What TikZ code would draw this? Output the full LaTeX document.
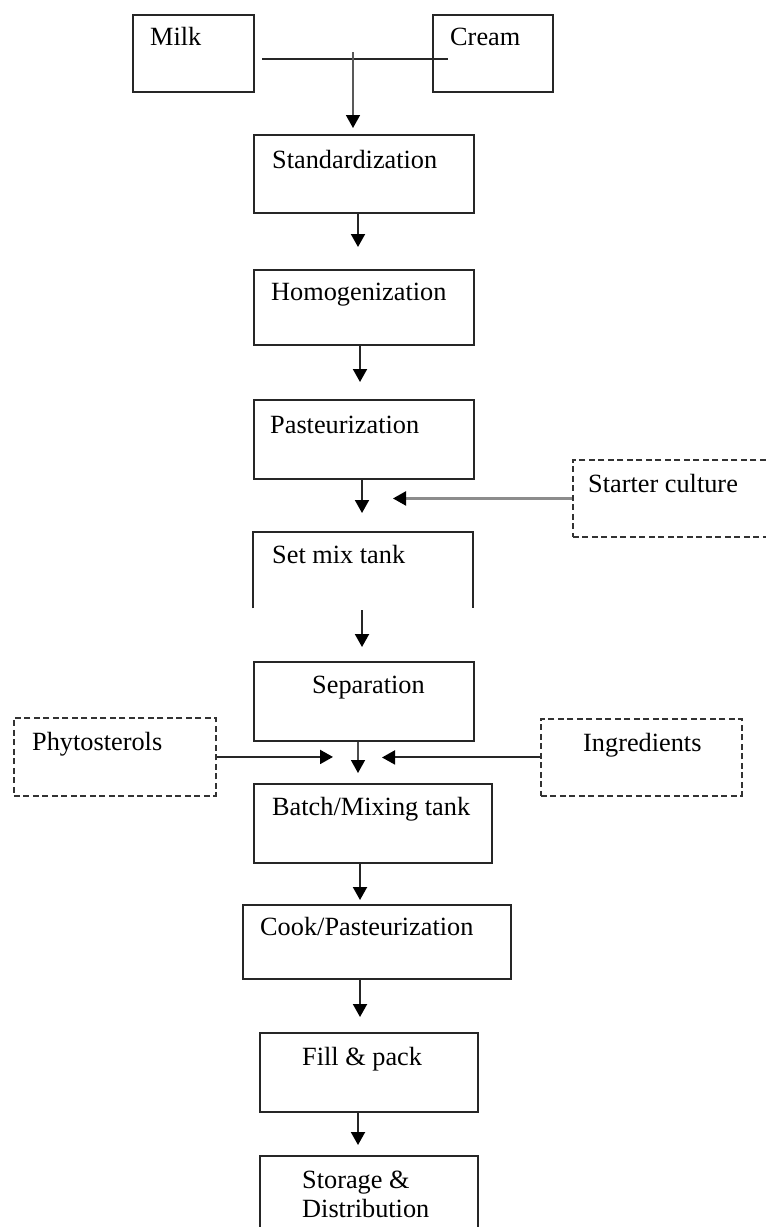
\documentclass[tikz,border=0pt]{standalone}
\usepackage{fontspec}
\setmainfont{Liberation Serif}
\usetikzlibrary{arrows.meta}
\begin{document}
\begin{tikzpicture}[x=1pt,y=-1pt,
  box/.style={draw=black!85, line width=1.9pt, anchor=north west, inner sep=0pt},
  openbox/.style={anchor=north west, inner sep=0pt},
  dbox/.style={draw=black!80, line width=1.9pt, dash pattern=on 6pt off 3.5pt, anchor=north west, inner sep=0pt},
  txt/.style={anchor=base west, inner sep=0pt, font=\fontsize{26.3}{29}\selectfont},
  tip/.style={-{Triangle[width=14pt,length=13pt,color=black,fill=black]}},
  arr/.style={line width=2pt, draw=black!85, tip},
  garr/.style={line width=2.2pt, draw=black!45, tip}
]
\useasboundingbox (0,0) rectangle (766,1227);
\clip (0,0) rectangle (766,1227);

% boxes
\node[box, minimum width=121pt, minimum height=77pt] (milk) at (132,14) {};
\node[box, minimum width=120pt, minimum height=77pt] (cream) at (432,14) {};
\node[box, minimum width=220pt, minimum height=78pt] (std) at (253,134) {};
\node[box, minimum width=220pt, minimum height=75pt] (hom) at (253,269) {};
\node[box, minimum width=220pt, minimum height=79pt] (past) at (253,399) {};
\node[openbox, minimum width=220pt, minimum height=76pt] (smt) at (253,532) {};
\draw[line width=1.9pt, draw=black!85] (smt.south west) -- (smt.north west) -- (smt.north east) -- (smt.south east);
\node[dbox, minimum width=210pt, minimum height=77pt] (starter) at (572,459) {};
\node[box, minimum width=220pt, minimum height=79pt] (sep) at (253,661) {};
\node[dbox, minimum width=202pt, minimum height=78pt] (phyto) at (13,717) {};
\node[dbox, minimum width=201pt, minimum height=77pt] (ingr) at (540,718) {};
\node[box, minimum width=238pt, minimum height=79pt] (batch) at (253,783) {};
\node[box, minimum width=268pt, minimum height=74pt] (cook) at (242,904) {};
\node[box, minimum width=218pt, minimum height=79pt] (fill) at (259,1032) {};
\node[box, minimum width=218pt, minimum height=95pt] (stor) at (259,1155) {};

% texts
\node[txt] (tmilk) at (150,45) {Milk};
\node[txt] (tcream) at (450,45) {Cream};
\node[txt] (tstd) at (272,168) {Standardization};
\node[txt] (thom) at (271,300) {Homogenization};
\node[txt] (tpast) at (270,433) {Pasteurization};
\node[txt] (tsmt) at (272,563) {Set mix tank};
\node[txt] (tstarter) at (588,492) {Starter culture};
\node[txt] (tsep) at (312,693) {Separation};
\node[txt] (tphyto) at (32,750) {Phytosterols};
\node[txt] (tingr) at (583,751) {Ingredients};
\node[txt] (tbatch) at (272,815) {Batch/Mixing tank};
\node[txt] (tcook) at (260,935) {Cook/Pasteurization};
\node[txt] (tfill) at (302,1065) {Fill \& pack};
\node[txt] (tstor1) at (302,1188) {Storage \&};
\node[txt] (tstor2) at (302,1217) {Distribution};

% column x positions
\coordinate (c353) at (353,0);
\coordinate (c358) at (358,0);
\coordinate (c360) at (360,0);
\coordinate (c362) at (362,0);

% milk/cream junction
\coordinate (mL) at (262,59);
\coordinate (mR) at (448,59);
\coordinate (mc) at (353,52);
\draw[line width=2pt, draw=black!85] (mL) -- (mR);
\draw[line width=1.6pt, draw=black!65, tip, shorten >=6pt] (mc) -- (std.north -| c353);

% main chain
\draw[arr, shorten >=22pt] (std.south -| c358) -- (hom.north -| c358);
\draw[arr, shorten >=17pt] (hom.south -| c360) -- (past.north -| c360);
\coordinate (j1) at (362,513);
\draw[arr] (past.south -| j1) -- (j1);
\draw[garr, shorten >=31pt] (starter.west) -- (starter.west -| j1);
\draw[arr, shorten <=2pt, shorten >=14pt] (smt.south -| c362) -- (sep.north -| c362);
\coordinate (j2) at (358,773);
\draw[line width=1.6pt, draw=black!70, tip] (sep.south -| j2) -- (j2);
\draw[arr, shorten >=25pt] (phyto.east) -- (phyto.east -| j2);
\draw[arr, shorten >=24pt] (ingr.west) -- (ingr.west -| j2);
\draw[arr, shorten >=4pt] (batch.south -| c360) -- (cook.north -| c360);
\draw[arr, shorten >=15pt] (cook.south -| c360) -- (fill.north -| c360);
\draw[arr, shorten >=10pt] (fill.south -| c358) -- (stor.north -| c358);
\end{tikzpicture}
\end{document}
